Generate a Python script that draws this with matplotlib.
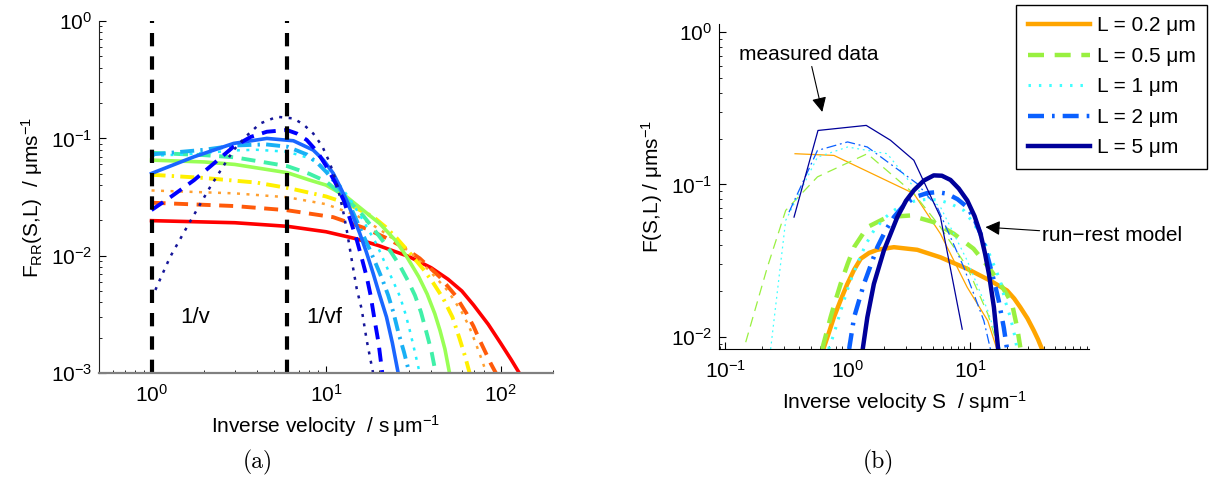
import matplotlib
matplotlib.use("Agg")
import matplotlib.pyplot as plt

plt.rcParams['font.family'] = ['Liberation Sans', 'DejaVu Sans']
plt.rcParams['mathtext.fontset'] = 'custom'
plt.rcParams['mathtext.rm'] = 'Liberation Sans'
plt.rcParams['mathtext.it'] = 'Liberation Sans:italic'
plt.rcParams['mathtext.bf'] = 'Liberation Sans:bold'
plt.rcParams['mathtext.default'] = 'regular'

# ---------------- Panel (a): run-rest model F_RR(S,L) ----------------
S_red = [1, 3, 6, 10, 15, 20, 30, 40, 50, 60, 70, 85, 100, 115, 128]
F_red = [0.0199, 0.0191, 0.0178, 0.0160, 0.0139, 0.0122, 0.0098, 0.0079, 0.0063, 0.0050, 0.0038, 0.0026, 0.0018, 0.0013, 0.001]

S_orangered = [1, 3, 6, 11, 17, 22, 27.5, 34.4, 44.8, 55, 64, 70, 76, 82, 88, 94]
F_orangered = [0.0283, 0.0265, 0.0244, 0.0213, 0.0170, 0.0142, 0.0119, 0.0095, 0.0066, 0.0046, 0.0032, 0.0025, 0.0019, 0.0015, 0.0012, 0.001]

S_orange = [1, 3, 6, 10, 15, 20, 25, 30, 35, 40, 50, 60, 66, 72, 78, 83]
F_orange = [0.036, 0.034, 0.0315, 0.0275, 0.022, 0.0170, 0.0135, 0.0108, 0.0088, 0.0072, 0.0050, 0.0033, 0.0025, 0.0018, 0.0013, 0.001]

S_yellow = [1, 2, 4, 6.2, 10, 13.1, 18.6, 22, 25.3, 31.5, 36, 41, 47, 53, 58, 62.5, 66.5]
F_yellow = [0.049, 0.046, 0.042, 0.0375, 0.032, 0.028, 0.0215, 0.0175, 0.0142, 0.0098, 0.0077, 0.0059, 0.0043, 0.0030, 0.0020, 0.0014, 0.001]

S_green = [1, 2, 3, 6, 8.1, 10, 13.1, 16, 20.3, 25, 29, 34, 38, 42, 45, 48, 51]
F_green = [0.0653, 0.063, 0.060, 0.051, 0.044, 0.040, 0.0318, 0.025, 0.0188, 0.0135, 0.0098, 0.0066, 0.0047, 0.0032, 0.0023, 0.0016, 0.001]

S_aqua = [1, 2, 3, 6, 8, 10, 13, 16.3, 20.3, 23.5, 26.5, 29.5, 32.3, 35, 38, 40.3, 42.5]
F_aqua = [0.0754, 0.072, 0.069, 0.058, 0.050, 0.043, 0.031, 0.022, 0.0145, 0.0108, 0.0082, 0.0061, 0.0046, 0.0033, 0.0021, 0.0015, 0.001]

S_cyan = [1, 1.5, 2, 3, 4, 6, 8, 9.7, 11, 12, 14, 16.3, 19.5, 23, 26.5, 28.5, 30, 32, 34.4]
F_cyan = [0.071, 0.073, 0.075, 0.079, 0.080, 0.077, 0.068, 0.057, 0.047, 0.040, 0.029, 0.020, 0.0125, 0.0072, 0.0045, 0.0032, 0.0024, 0.0016, 0.001]

S_sky = [1, 1.5, 2, 3, 4.5, 6, 7.75, 9, 10, 11, 12, 14, 16, 17.7, 19.5, 21, 22.7, 24.3, 26, 28, 30]
F_sky = [0.073, 0.077, 0.080, 0.087, 0.089, 0.085, 0.073, 0.061, 0.052, 0.044, 0.037, 0.025, 0.016, 0.0115, 0.0082, 0.0063, 0.0046, 0.0033, 0.0022, 0.0015, 0.001]

S_dodger = [1, 1.75, 2.95, 4.58, 6.5, 8.45, 9.7, 11, 12, 13.1, 14.3, 15.6, 17, 18.6, 20.3, 22.2, 24, 25.9]
F_dodger = [0.0503, 0.0697, 0.0906, 0.100, 0.0955, 0.0795, 0.065, 0.0503, 0.039, 0.0298, 0.0215, 0.0155, 0.0108, 0.0071, 0.0046, 0.003, 0.0018, 0.001]

S_blue = [1, 1.3, 1.75, 2.3, 2.95, 3.7, 4.58, 5.96, 6.8, 7.75, 8.9, 10.1, 11.3, 12.6, 13.8, 15, 16, 17.1, 18, 19, 20, 21]
F_blue = [0.0245, 0.032, 0.044, 0.062, 0.085, 0.103, 0.114, 0.118, 0.110, 0.097, 0.077, 0.057, 0.042, 0.0298, 0.0200, 0.0136, 0.0096, 0.0066, 0.0046, 0.0028, 0.0018, 0.001]

S_navy = [1, 1.13, 1.28, 1.6, 2.17, 2.95, 3.5, 4.19, 5.23, 6.5, 7.4, 8.45, 9.5, 10.5, 11.3, 12, 12.6, 13.1, 14.3, 15, 16, 17.1, 18.6]
F_navy = [0.0043, 0.0065, 0.0098, 0.0177, 0.0387, 0.0795, 0.105, 0.134, 0.153, 0.148, 0.132, 0.110, 0.086, 0.062, 0.045, 0.032, 0.023, 0.017, 0.0078, 0.0052, 0.0035, 0.0019, 0.001]

vline_S = [1, 6]

# ---------------- Panel (b): model vs measured ----------------
legend_labels = ['L = 0.2 \u03bcm', 'L = 0.5 \u03bcm', 'L = 1 \u03bcm', 'L = 2 \u03bcm', 'L = 5 \u03bcm']

Sm_02 = [0.634, 0.7, 0.773, 0.88, 0.995, 1.13, 1.28, 1.5, 1.75, 2.39, 3.71, 5.74, 9.5, 14.7, 20.1, 23, 25.8, 29.5, 33.2, 36, 38.8]
Fm_02 = [0.0083, 0.0105, 0.0134, 0.0175, 0.0222, 0.0275, 0.0325, 0.0355, 0.0372, 0.0387, 0.0372, 0.0332, 0.0279, 0.0233, 0.0201, 0.0178, 0.0156, 0.0132, 0.011, 0.0096, 0.0083]

Sm_05 = [0.62, 0.67, 0.726, 0.8, 0.877, 1.0, 1.13, 1.45, 2.11, 3.27, 5.06, 7.38, 10.7, 14.5, 17.7, 20, 22.1, 24.3, 25.8]
Fm_05 = [0.0083, 0.0105, 0.0134, 0.0175, 0.0222, 0.030, 0.0387, 0.0524, 0.061, 0.0625, 0.0565, 0.0474, 0.0378, 0.028, 0.0222, 0.019, 0.0164, 0.0115, 0.0085]

Sm_1 = [0.70, 0.773, 0.85, 0.933, 1.05, 1.2, 1.4, 1.64, 2.0, 2.39, 3.0, 3.71, 4.6, 5.74, 7.1, 8.9, 10.8, 13, 15.3, 17.7, 19.5, 21.4, 23, 24.3]
Fm_1 = [0.0083, 0.0104, 0.0135, 0.0172, 0.023, 0.030, 0.040, 0.0498, 0.060, 0.0675, 0.075, 0.0785, 0.080, 0.0785, 0.074, 0.0675, 0.055, 0.0428, 0.031, 0.0233, 0.017, 0.0134, 0.0105, 0.0083]

Sm_2 = [1.03, 1.13, 1.36, 1.75, 2.05, 2.39, 2.8, 3.27, 3.8, 4.47, 5.4, 6.5, 7.9, 9.5, 10.9, 12.2, 13.5, 14.7, 16, 17.2, 18.9, 20.1]
Fm_2 = [0.0083, 0.0134, 0.0222, 0.0387, 0.050, 0.061, 0.071, 0.0785, 0.084, 0.0877, 0.089, 0.0869, 0.080, 0.071, 0.059, 0.0474, 0.037, 0.0286, 0.022, 0.0172, 0.0115, 0.0083]

Sm_5 = [1.33, 1.45, 1.64, 1.98, 2.55, 3.0, 3.48, 4.2, 5.06, 5.9, 6.93, 8.1, 9.5, 10.9, 12.2, 13.3, 14.3, 15.7, 17.0]
Fm_5 = [0.0083, 0.0134, 0.0222, 0.0368, 0.061, 0.078, 0.0914, 0.106, 0.1146, 0.114, 0.107, 0.094, 0.0785, 0.062, 0.0474, 0.035, 0.0258, 0.0156, 0.0083]

Sd_02 = [0.372, 0.773, 3.48, 5.74, 9.5, 14.0, 16.6]
Fd_02 = [0.159, 0.155, 0.087, 0.0474, 0.0211, 0.0127, 0.0083]

Sd_05 = [0.147, 0.221, 0.312, 0.567, 1.45, 3.48, 5.74, 9.5, 14.0, 17.2]
Fd_05 = [0.0092, 0.0286, 0.0675, 0.112, 0.159, 0.087, 0.0524, 0.0286, 0.0141, 0.0083]

Sd_1 = [0.235, 0.312, 0.567, 1.0, 2.11, 3.48, 5.74, 9.5, 14.0, 17.7]
Fd_1 = [0.0083, 0.058, 0.151, 0.176, 0.159, 0.096, 0.071, 0.0316, 0.0148, 0.0083]

Sd_2 = [0.332, 0.567, 1.0, 1.45, 3.71, 5.4, 8.9, 13.0, 14.7]
Fd_2 = [0.0657, 0.167, 0.19, 0.176, 0.101, 0.071, 0.0286, 0.0127, 0.0083]

Sd_5 = [0.365, 0.573, 1.42, 2.24, 3.48, 5.74, 8.65]
Fd_5 = [0.061, 0.226, 0.244, 0.195, 0.144, 0.061, 0.0112]

# ---------------- Figure ----------------
fig = plt.figure(figsize=(12.15, 4.88), dpi=100)
axA = fig.add_axes([0.0815, 0.2357, 0.3737, 0.721])
axB = fig.add_axes([0.5918, 0.2848, 0.3045, 0.666])

TICK_FS = 15
LAB_FS = 15

curvesA = [
    (S_red, F_red, '#FF0000', '-', 2.6),
    (S_orangered, F_orangered, '#FF5A0A', '--', 2.8),
    (S_orange, F_orange, '#FFA030', ':', 1.8),
    (S_yellow, F_yellow, '#FFF000', '-.', 2.8),
    (S_green, F_green, '#99FF55', '-', 2.6),
    (S_aqua, F_aqua, '#40F0A8', '--', 2.8),
    (S_cyan, F_cyan, '#22F0FF', ':', 1.8),
    (S_sky, F_sky, '#18B0F5', '-.', 2.8),
    (S_dodger, F_dodger, '#1A66FF', '-', 2.6),
    (S_blue, F_blue, '#0000FF', '--', 2.8),
    (S_navy, F_navy, '#151599', ':', 1.8),
]
for S, F, c, ls, lw in curvesA:
    line, = axA.plot(S, F, color=c, linestyle=ls, lw=lw)
    if ls == ':':
        line.set_dashes((1.2, 2.6))
    elif ls == '--':
        line.set_dashes((3.6, 2.2))
    elif ls == '-.':
        line.set_dashes((3.6, 1.6, 0.6, 1.6))

for xv in vline_S:
    l, = axA.plot([xv, xv], [1e-3, 1], color='black', lw=3)
    l.set_dashes((3.2, 2.4))

axA.set_xscale('log')
axA.set_yscale('log')
axA.set_xlim(0.5, 200)
axA.set_ylim(1e-3, 1)
axA.spines['top'].set_visible(False)
axA.spines['right'].set_visible(False)
axA.spines['bottom'].set_color('#808080')
axA.spines['bottom'].set_linewidth(1.6)
axA.spines['left'].set_color('#222222')
axA.spines['left'].set_linewidth(0.8)
axA.tick_params(which='both', direction='in', labelsize=TICK_FS)
axA.tick_params(axis='x', pad=8)
axA.tick_params(axis='y', pad=5)
axA.tick_params(which='major', length=5)
axA.tick_params(which='minor', length=2.5)
axA.set_xlabel('Inverse velocity  / s\u2009\u03bcm$^{-1}$', fontsize=LAB_FS, labelpad=5)
axA.set_ylabel('F$_{RR}$(S,L)  / \u03bcms$^{-1}$', fontsize=LAB_FS, labelpad=4)
axA.text(1.46, 0.003, '1/v', fontsize=16, va='center', ha='left')
axA.text(7.7, 0.003, '1/vf', fontsize=16, va='center', ha='left')

model_style = [
    (Sm_02, Fm_02, '#FFA500', '-', 3.2),
    (Sm_05, Fm_05, '#99F040', '--', 3.2),
    (Sm_1, Fm_1, '#40FFFF', ':', 2.2),
    (Sm_2, Fm_2, '#0A60FF', '-.', 3.2),
    (Sm_5, Fm_5, '#00009A', '-', 3.2),
]
data_series = [(Sd_02, Fd_02), (Sd_05, Fd_05), (Sd_1, Fd_1), (Sd_2, Fd_2), (Sd_5, Fd_5)]

handles = []
for (S, F, c, ls, lw), (Sd, Fd) in zip(model_style, data_series):
    line, = axB.plot(S, F, color=c, linestyle=ls, lw=lw)
    thin, = axB.plot(Sd, Fd, color=c, linestyle=ls, lw=0.9)
    if ls == '--':
        line.set_dashes((3.6, 2.4))
        thin.set_dashes((8, 5))
    elif ls == ':':
        line.set_dashes((0.8, 2.6))
        thin.set_dashes((1.5, 3))
    elif ls == '-.':
        line.set_dashes((3.6, 1.8, 0.6, 1.8))
        thin.set_dashes((8, 3, 1.5, 3))
    handles.append(line)

axB.set_xscale('log')
axB.set_yscale('log')
axB.set_xlim(0.089, 94)
axB.set_ylim(0.0083, 1.13)
axB.spines['top'].set_visible(False)
axB.spines['right'].set_visible(False)
for sp in ('left', 'bottom'):
    axB.spines[sp].set_color('black')
    axB.spines[sp].set_linewidth(0.8)
axB.tick_params(which='both', direction='in', labelsize=TICK_FS)
axB.tick_params(axis='x', pad=8)
axB.tick_params(axis='y', pad=5)
axB.tick_params(which='major', length=5)
axB.tick_params(which='minor', length=2.5)
axB.set_xlabel('Inverse velocity S  / s\u03bcm$^{-1}$', fontsize=LAB_FS, labelpad=5)
axB.set_ylabel('F(S,L) / \u03bcms$^{-1}$', fontsize=LAB_FS, labelpad=4)

axB.annotate('measured data', xy=(0.621, 0.299), xytext=(0.483, 0.62),
             fontsize=LAB_FS, ha='center', va='bottom',
             arrowprops=dict(arrowstyle='-|>', color='black', lw=0.8,
                             mutation_scale=22, shrinkA=0, shrinkB=0))
axB.annotate('run\u2212rest model', xy=(13.4, 0.0524), xytext=(39.1, 0.0462),
             fontsize=LAB_FS, ha='left', va='center',
             arrowprops=dict(arrowstyle='-|>', color='black', lw=0.8,
                             mutation_scale=22, shrinkA=0, shrinkB=0))

leg = fig.legend(handles, legend_labels, loc='upper right',
                 bbox_to_anchor=(1207 / 1215, 1 - 5 / 488),
                 bbox_transform=fig.transFigure, fontsize=LAB_FS,
                 frameon=True, fancybox=False, framealpha=1,
                 edgecolor='black', handlelength=3.0, handletextpad=0.3,
                 labelspacing=0.55, borderpad=0.55, borderaxespad=0)
leg.get_frame().set_linewidth(1.0)

fig.text(258 / 1215, 1 - 462 / 488, '(a)', fontsize=17, family='cmr10', ha='center', va='center')
fig.text(878 / 1215, 1 - 462 / 488, '(b)', fontsize=17, family='cmr10', ha='center', va='center')

fig.savefig('out.png', dpi=100)
